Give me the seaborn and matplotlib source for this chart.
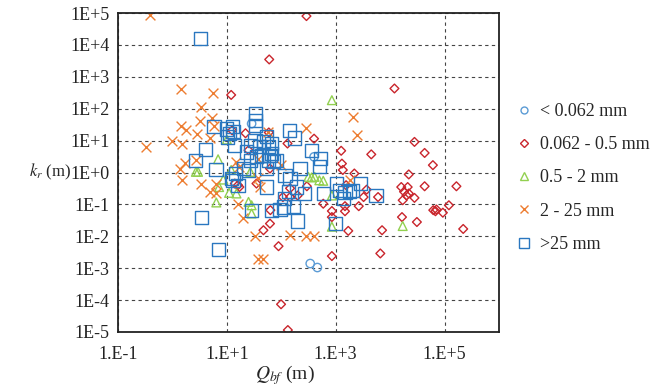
import matplotlib
matplotlib.use("Agg")
import matplotlib.pyplot as plt
from matplotlib.lines import Line2D
from matplotlib.ticker import FixedLocator, FixedFormatter, NullLocator
import pandas as pd
import seaborn as sns

# ── data ──────────────────────────────────────────────────────────────────────
clay_q = [28.5, 400, 340, 460]
clay_k = [34, 3.1, 0.0014, 0.00105]

sand_q = [290, 60, 12, 12000, 12.5, 22, 59, 130, 400, 25, 62, 16, 35, 14, 17,
          145, 295, 200, 145, 107, 590, 850, 850, 63, 62, 47, 89, 850, 99, 132,
          28000, 1260, 4500, 43000, 61000, 1300, 1350, 2200, 22000, 43000,
          165000, 16000, 21000, 18000, 20000, 22000, 28000, 17000, 6000, 3250,
          3700, 1550, 2650, 1480, 1480, 62000, 71000, 68000, 93000, 120000,
          16500, 31000, 220000, 7100, 1700, 6600]
sand_k = [8.0e4, 3500, 270, 430, 21, 17, 18, 8.1, 11.5, 5.0, 1.33, 0.40, 0.45,
          0.45, 0.35, 0.32, 0.37, 0.19, 0.17, 0.17, 0.105, 0.062, 0.040, 0.066,
          0.025, 0.0155, 0.0049, 0.0024, 7.4e-5, 1.15e-5,
          9.1, 4.8, 3.7, 4.1, 1.7, 1.9, 1.2, 0.93, 0.87, 0.37,
          0.37, 0.35, 0.35, 0.25, 0.19, 0.22, 0.16, 0.135, 0.17, 0.17,
          0.29, 0.40, 0.088, 0.088, 0.061, 0.066, 0.069, 0.061, 0.055, 0.094,
          0.040, 0.028, 0.017, 0.0155, 0.0148, 0.0029]

fine_gravel_q = [850, 10, 6.9, 2.7, 2.95, 8.6, 7.2, 6.4, 11, 25, 28.5, 28.5, 15,
                 27, 12, 315, 410, 360, 500, 590, 850, 850, 17000]
fine_gravel_k = [185, 10.8, 2.6, 1.05, 1.05, 0.6, 0.35, 0.115, 0.23, 0.12, 0.052,
                 0.094, 0.22, 1.05, 1.2, 0.73, 0.73, 0.7, 0.57, 0.55, 0.19, 0.02,
                 0.021]

gravel_q = [0.39, 1.45, 5.5, 3.3, 3.2, 5.3, 1.45, 1.8, 2.8, 1.0, 1.5, 0.33, 4.9,
            5.8, 2.7, 1.7, 1.5, 3.3, 4.8, 6.4, 1.35, 6.3, 16, 20, 33, 38, 47,
            145, 290, 400, 58, 285, 2050, 2450, 1800, 15, 17, 100, 38, 40, 38]
gravel_k = [8.5e4, 410, 310, 112, 40, 52, 29, 21, 16, 10, 8, 6.2, 12.5,
            28, 2.4, 2.0, 0.57, 0.43, 0.25, 0.45, 1.25, 0.22, 0.105, 0.037,
            0.01, 0.0019, 0.0019, 0.011, 0.0105, 0.0105, 19, 24, 53, 15, 0.57,
            2.15, 1.5, 1.7, 0.65, 0.35, 2.7]

boulder_q = [3.3, 5.8, 10, 11, 10.3, 34, 34, 34, 12.5, 13, 140, 172, 360, 4.1,
             2.7, 6.3, 12, 33, 47, 54, 58, 66, 66, 58, 27, 23, 27, 44, 54, 71,
             25, 14, 40, 530, 145, 220, 117, 82, 62, 35, 13, 16, 54, 190, 135,
             270, 590, 95, 115, 165, 108, 28.5, 65, 200, 1000, 3.4, 7.1, 1050,
             1200, 1480, 1800, 2050, 2900, 5500, 1380, 500, 20, 14.6]
boulder_k = [1.6e4, 28, 23, 17, 13, 70, 43, 29, 27, 19, 21, 12, 5, 5.4,
             2.4, 1.22, 0.65, 10.3, 9.1, 13.5, 6.4, 8.1, 3.9, 2.4, 7.2, 4.4, 2.4,
             3.5, 1.33, 2.15, 1.18, 7.2, 6.4, 2.7, 0.65, 1.33, 0.82, 2.4, 3.5,
             3.1, 0.57, 0.4, 0.35, 0.35, 0.25, 0.22, 0.22, 0.068, 0.15, 0.088,
             0.083, 0.066, 0.066, 0.03, 0.025, 0.038, 0.0039, 0.45, 0.28, 0.23,
             0.25, 0.28, 0.45, 0.19, 0.15, 1.5, 1.3, 0.93]

labels = ["< 0.062 mm", "0.062 - 0.5 mm", "0.5 - 2 mm", "2 - 25 mm", ">25 mm"]
x_ticks = [1e-1, 1e1, 1e3, 1e5]
x_tick_labels = ["1.E-1", "1.E+1", "1.E+3", "1.E+5"]
y_ticks = [1e-5, 1e-4, 1e-3, 1e-2, 1e-1, 1e0, 1e1, 1e2, 1e3, 1e4, 1e5]
y_tick_labels = ["1E-5", "1E-4", "1E-3", "1E-2", "1E-1", "1E+0",
                 "1E+1", "1E+2", "1E+3", "1E+4", "1E+5"]

# ── style ─────────────────────────────────────────────────────────────────────
sns.set_style("white")
plt.rcParams["font.family"] = ["Liberation Serif", "DejaVu Serif"]
plt.rcParams["mathtext.fontset"] = "stix"

# marker, colour, scatter size, legend size, hollow?
styles = [
    ("o", "#5B9BD5", 36, 5.0, True),
    ("D", "#C9252C", 20, 4.2, True),
    ("^", "#92D050", 40, 5.5, True),
    ("x", "#ED7D31", 50, 5.5, False),
    ("s", "#2A77C0", 90, 7.5, True),
]
series = [(clay_q, clay_k), (sand_q, sand_k), (fine_gravel_q, fine_gravel_k),
          (gravel_q, gravel_k), (boulder_q, boulder_k)]

fig = plt.figure(figsize=(6.67, 3.87), dpi=100)
ax = fig.add_axes([118 / 667, 1 - 332 / 387, (499 - 118) / 667, (332 - 13) / 387])

for (q, k), lab, (m, c, s, _, hollow) in zip(series, labels, styles):
    df = pd.DataFrame({"q": q, "k": k})
    if hollow:
        sns.scatterplot(data=df, x="q", y="k", marker=m, s=s, color=c,
                        facecolors="none", edgecolor=c, linewidth=1.0, ax=ax)
    else:
        sns.scatterplot(data=df, x="q", y="k", marker=m, s=s, color=c,
                        linewidth=1.0, ax=ax)

ax.set_xscale("log")
ax.set_yscale("log")
ax.set_xlim(1e-1, 1e6)
ax.set_ylim(1e-5, 1e5)
ax.xaxis.set_major_locator(FixedLocator(x_ticks))
ax.xaxis.set_major_formatter(FixedFormatter(x_tick_labels))
ax.xaxis.set_minor_locator(NullLocator())
ax.yaxis.set_major_locator(FixedLocator(y_ticks))
ax.yaxis.set_major_formatter(FixedFormatter(y_tick_labels))
ax.yaxis.set_minor_locator(NullLocator())
ax.tick_params(axis="both", length=0, labelsize=13, colors="#222222")
ax.tick_params(axis="x", pad=10)
ax.tick_params(axis="y", pad=6)
ax.grid(True, color="#444444", linestyle=(0, (3, 3)), linewidth=0.8)
ax.set_axisbelow(True)
for sp in ax.spines.values():
    sp.set_color("#222222")
    sp.set_linewidth(1.3)
ax.set_xlabel("")
ax.set_ylabel("")

fig.text(71 / 667, 1 - 172 / 387, "$k_r$ (m)", ha="right", va="center", fontsize=12)
fig.text(285 / 667, 1 - 375 / 387, "$Q_{bf}$ (m)", ha="center", va="center", fontsize=14)

handles = [Line2D([], [], linestyle="none", marker=m, markersize=ms,
                  markerfacecolor="none" if hollow else c, markeredgecolor=c,
                  markeredgewidth=1.0)
           for (m, c, _, ms, hollow) in styles]
fig.legend(handles, labels, loc="center left", bbox_to_anchor=(508 / 667, 1 - 178 / 387),
           frameon=False, fontsize=13, labelspacing=0.9, handlelength=0.8,
           handletextpad=0.5, borderpad=0)

fig.savefig("out.png", dpi=100)
